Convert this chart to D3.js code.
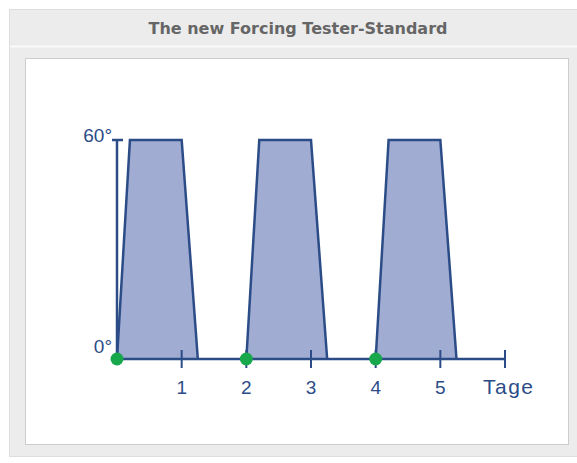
<!DOCTYPE html>
<html><head><meta charset="utf-8">
<script src="https://cdn.jsdelivr.net/npm/d3@7"></script>
<style>html,body{margin:0;padding:0;background:#fff;}</style>
</head><body>
<script>
const title = "The new Forcing Tester-Standard";
const cycleStarts = [0, 2, 4];
const cycleDays = [0, 0.2, 1.0, 1.25];   // offsets within a cycle
const cycleTemps = [0, 60, 60, 0];
const xTicks = [1, 2, 3, 4, 5];
const xTickLabels = ["1", "2", "3", "4", "5"];
const yTicks = [0, 60];
const yTickLabels = ["0°", "60°"];
const xUnit = "Tage";
const markers = [0, 2, 4];

const W = 577, H = 463;
const svg = d3.select("body").append("svg").attr("width", W).attr("height", H);

// panel
svg.append("rect").attr("x", 9.5).attr("y", 9.5).attr("width", 570).attr("height", 447)
  .attr("fill", "#ececec").attr("stroke", "#dddddd");
svg.append("line").attr("x1", 10).attr("x2", 577).attr("y1", 46.5).attr("y2", 46.5)
  .attr("stroke", "#fafafa").attr("stroke-width", 2);
svg.append("rect").attr("x", 25.5).attr("y", 58.5).attr("width", 543).attr("height", 386)
  .attr("fill", "#ffffff").attr("stroke", "#cccccc");
svg.append("text").attr("x", 298).attr("y", 34).attr("text-anchor", "middle")
  .attr("font-family", "DejaVu Sans").attr("font-weight", "bold").attr("font-size", 16)
  .attr("fill", "#666666").text(title);

const x = d3.scaleLinear().domain([0, 6]).range([117, 505]);
const y = d3.scaleLinear().domain([0, 60]).range([359, 140]);
const blue = "#2c4c87";

// trapezoids
const area = d3.area().x(d => x(d[0])).y0(y(0)).y1(d => y(d[1]));
const line = d3.line().x(d => x(d[0])).y(d => y(d[1]));
cycleStarts.forEach(s => {
  const pts = cycleDays.map((o, i) => [s + o, cycleTemps[i]]);
  svg.append("path").attr("d", area(pts)).attr("fill", "#a1acd2");
  svg.append("path").attr("d", line(pts)).attr("fill", "none")
    .attr("stroke", blue).attr("stroke-width", 2.5).attr("stroke-linejoin", "miter");
});

// y axis
svg.append("line").attr("x1", x(0)).attr("x2", x(0)).attr("y1", y(0)).attr("y2", y(60))
  .attr("stroke", blue).attr("stroke-width", 2.5);
svg.append("line").attr("x1", x(0) - 5).attr("x2", x(0) + 6).attr("y1", y(60)).attr("y2", y(60))
  .attr("stroke", blue).attr("stroke-width", 2.5);
// x axis
svg.append("line").attr("x1", x(0)).attr("x2", x(6)).attr("y1", y(0)).attr("y2", y(0))
  .attr("stroke", blue).attr("stroke-width", 2.5);
xTicks.concat([6]).forEach(t => {
  svg.append("line").attr("x1", x(t)).attr("x2", x(t)).attr("y1", y(0) - 9).attr("y2", y(0) + 9)
    .attr("stroke", blue).attr("stroke-width", 2);
});
const font = "Liberation Sans, Arial, sans-serif";
xTicks.forEach((t, i) => {
  svg.append("text").attr("x", x(t)).attr("y", 394).attr("text-anchor", "middle")
    .attr("font-family", font).attr("font-size", 19).attr("fill", blue).text(xTickLabels[i]);
});
svg.append("text").attr("x", 483).attr("y", 394)
  .attr("font-family", font).attr("font-size", 21).attr("letter-spacing", 1.5)
  .attr("fill", blue).text(xUnit);
yTicks.forEach((t, i) => {
  svg.append("text").attr("x", 112).attr("y", y(t) + (t === 0 ? -6 : 2)).attr("text-anchor", "end")
    .attr("font-family", font).attr("font-size", 19).attr("fill", blue).text(yTickLabels[i]);
});
// markers
markers.forEach(m => {
  svg.append("circle").attr("cx", x(m)).attr("cy", y(0)).attr("r", 6.5).attr("fill", "#18a84c");
});
</script>
</body></html>
